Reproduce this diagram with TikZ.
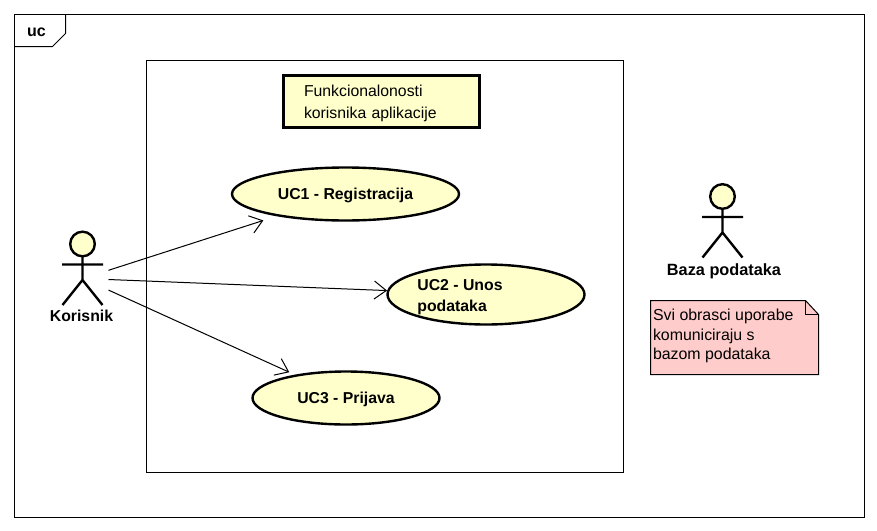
\documentclass[tikz,border=0pt]{standalone}
\usepackage{fontspec}
\setmainfont{Liberation Sans}
\usetikzlibrary{arrows.meta,shapes.geometric}
\definecolor{ucYellow}{RGB}{255,255,204}
\definecolor{ucPink}{RGB}{255,204,204}
\tikzset{
  usecase/.style={draw,ellipse,line width=2.4pt,fill=ucYellow,font=\fontsize{15.8}{21}\selectfont\bfseries,inner sep=0pt},
  actorbox/.style={rectangle,minimum width=50pt,minimum height=90pt,inner sep=0pt},
  actorname/.style={font=\fontsize{16.3}{19}\selectfont\bfseries,inner sep=0pt},
  actorline/.style={line width=2.4pt},
  assoc/.style={-{Straight Barb[length=12pt,width=18pt,line width=1pt]},line width=1pt}
}
\newcommand{\actorfig}[2]{%
  \draw[actorline,fill=ucYellow] (#1,#2) circle (12.3pt);
  \draw[actorline] (#1,#2+12.3) -- ++(0,24) (#1-20.5,#2+20.5) -- ++(41,0)
    (#1-20,#2+61) -- (#1,#2+36) -- (#1+20,#2+61);}
\begin{document}
\begin{tikzpicture}[x=1pt,y=-1pt,line width=1pt]

    \useasboundingbox (0,0) rectangle (877,530);
    \fill[white] (0,0) rectangle (877,530);

    % frame
    \draw (14,14) rectangle (864,517);
    \draw (14,46.5) -- (52.5,46.5) -- (65.5,33.5) -- (65.5,14);
    \node[font=\fontsize{16}{19}\selectfont\bfseries,inner sep=0pt] (framename) at (36.5,32) {uc};

    % system
    \draw (146.5,60.5) rectangle (623.5,472.5);
    \node[draw,line width=3pt,fill=ucYellow,minimum width=196pt,minimum height=52pt,inner sep=0pt,
      text width=154pt,align=left,font=\fontsize{15.8}{22}\selectfont] (title) at (381,101.5)
      {\rule{0pt}{15.5pt}Funkcionalonosti\\korisnika aplikacije};

    \node[usecase,minimum width=227pt,minimum height=53pt] (uc1) at (345.5,194) {\rule{0pt}{14pt}UC1 - Registracija};
    \node[usecase,minimum width=197pt,minimum height=60pt,align=left] (uc2) at (486,294.5)
      {\hspace*{-52pt}\rule{0pt}{16.5pt}UC2 - Unos\\\hspace*{-52pt}podataka};
    \node[usecase,minimum width=187pt,minimum height=53pt] (uc3) at (346,398) {\rule{0pt}{14.5pt}UC3 - Prijava};

    % actors
    \actorfig{82.5}{244}
    \node[actorbox] (korisnik) at (83,278.5) {};
    \node[actorname,font=\fontsize{15.8}{19}\selectfont\bfseries] (korisnikname) at (81.5,316) {Korisnik};
    \actorfig{722.5}{196.5}
    \node[actorname] (baza) at (724,271) {Baza podataka};

    \draw[assoc,shorten >=14pt] (korisnik) -- (uc1);
    \draw[assoc] (korisnik) -- (uc2);
    \draw[assoc,shorten >=6pt] (korisnik) -- (uc3);

    % note
    \draw[fill=ucPink] (650.5,300.5) -- (805.5,300.5) -- (818.5,314.5) -- (818.5,374.5) -- (650.5,374.5) -- cycle;
    \draw (805.5,300.5) -- (805.5,314.5) -- (818.5,314.5);
    \node[anchor=north west,inner sep=0pt,align=left,font=\fontsize{15.9}{19.5}\selectfont] (note) at (652.5,308.5)
      {Svi obrasci uporabe\\komuniciraju s\\bazom podataka};

\end{tikzpicture}
\end{document}
